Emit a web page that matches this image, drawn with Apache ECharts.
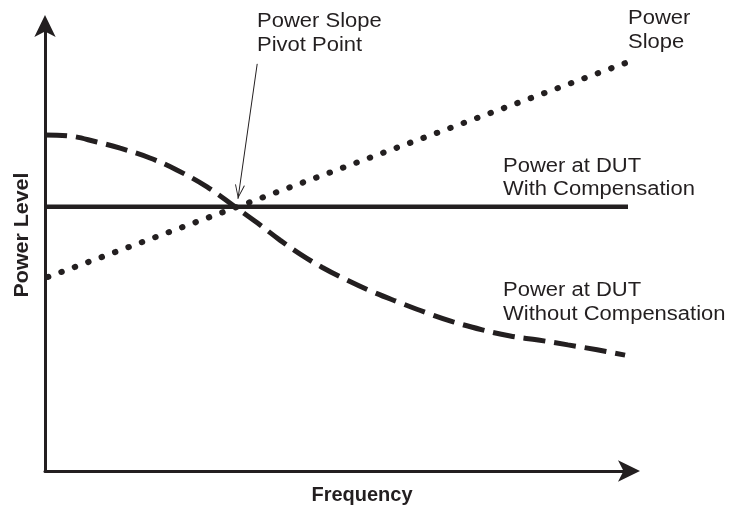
<!DOCTYPE html>
<html>
<head>
<meta charset="utf-8">
<script src="https://cdn.jsdelivr.net/npm/echarts@6/dist/echarts.min.js"></script>
<style>
  html, body { margin: 0; padding: 0; background: #fff; }
  #main { width: 732px; height: 509px; }
</style>
</head>
<body>
<div id="main"></div>
<script>
// frequency runs 0..100 across the plot, power level 0..100 up the plot
var compensated = [[0, 59.5], [100, 59.5]] // Power at DUT With Compensation
var powerSlope = [[0.5, 43.7], [100, 92.1]] // Power Slope (straight dotted line)
var uncompensated = [ // Power at DUT Without Compensation
  [0, 75.7], [3.9, 75.5], [8.9, 74.1], [12.9, 72.7], [18.0, 70.5],
  [22.6, 67.8], [27.8, 64.0], [32.6, 59.5], [36.4, 55.9], [40.3, 52.0],
  [43.7, 48.9], [47.5, 45.9], [51.8, 43.0], [56.3, 40.3], [60.5, 38.1],
  [65.5, 35.6], [70.0, 33.6], [75.0, 31.8], [79.8, 30.4], [84.6, 29.5],
  [89.7, 28.4], [94.7, 27.3], [99.5, 26.1]
]
var pivotPointer = [[36.4, 91.7], [33.1, 61.3]] // arrow from label to pivot

var ink = '#231f20'
var font = '"Liberation Sans", Arial, Helvetica, sans-serif'

function note (text, x, y, lh) {
  return {
    type: 'text',
    x: x,
    y: y,
    scaleX: 1.1,
    style: {
      text: text,
      fill: ink,
      font: '20px ' + font,
      lineHeight: lh,
      align: 'left',
      verticalAlign: 'top'
    }
  }
}

var chart = echarts.init(document.getElementById('main'))
var option = {
  animation: false,
  grid: { left: 45, right: 104, top: 27, bottom: 38 },
  xAxis: {
    type: 'value',
    min: 0,
    max: 100,
    axisLine: {
      symbol: ['none', 'arrow'],
      symbolSize: [16, 22],
      symbolOffset: [0, 12],
      lineStyle: { color: ink, width: 3 }
    },
    axisTick: { show: false },
    axisLabel: { show: false },
    splitLine: { show: false }
  },
  yAxis: {
    type: 'value',
    min: 0,
    max: 100,
    axisLine: {
      show: true,
      symbol: ['none', 'arrow'],
      symbolSize: [16, 22],
      symbolOffset: [0, 12],
      lineStyle: { color: ink, width: 3 }
    },
    axisTick: { show: false },
    axisLabel: { show: false },
    splitLine: { show: false }
  },
  graphic: [
    note('Power Slope\nPivot Point', 257, 9, 24),
    note('Power\nSlope', 628, 6, 24),
    note('Power at DUT\nWith Compensation', 503, 155, 23),
    note('Power at DUT\nWithout Compensation', 503, 278, 24),
    {
      type: 'text',
      x: 362,
      y: 495,
      style: {
        text: 'Frequency',
        fill: ink,
        font: 'bold 20px ' + font,
        align: 'center',
        verticalAlign: 'middle'
      }
    },
    {
      type: 'text',
      x: 22,
      y: 235,
      rotation: Math.PI / 2,
      scaleX: 1.07,
      style: {
        text: 'Power Level',
        fill: ink,
        font: 'bold 20px ' + font,
        align: 'center',
        verticalAlign: 'middle'
      }
    }
  ],
  series: [
    {
      name: 'With Compensation',
      type: 'line',
      data: compensated,
      symbol: 'none',
      lineStyle: { color: ink, width: 4.5 },
      markLine: {
        silent: true,
        symbol: ['none', 'path://M5,0 L10,14 L9,14 L5,2.5 L1,14 L0,14 Z'],
        symbolSize: [10, 14],
        symbolOffset: [0, [0, 7]],
        label: { show: false },
        lineStyle: { color: ink, width: 1, type: 'solid' },
        data: [[{ coord: pivotPointer[0] }, { coord: pivotPointer[1] }]]
      }
    },
    {
      name: 'Without Compensation',
      type: 'line',
      data: uncompensated,
      smooth: 0.4,
      symbol: 'none',
      lineStyle: { color: ink, width: 5, type: [22, 9], cap: 'butt' }
    },
    {
      name: 'Power Slope',
      type: 'line',
      data: powerSlope,
      symbol: 'none',
      lineStyle: { color: ink, width: 6, type: [0.5, 13.8], cap: 'round' }
    }
  ]
}
chart.setOption(option)
</script>
</body>
</html>
